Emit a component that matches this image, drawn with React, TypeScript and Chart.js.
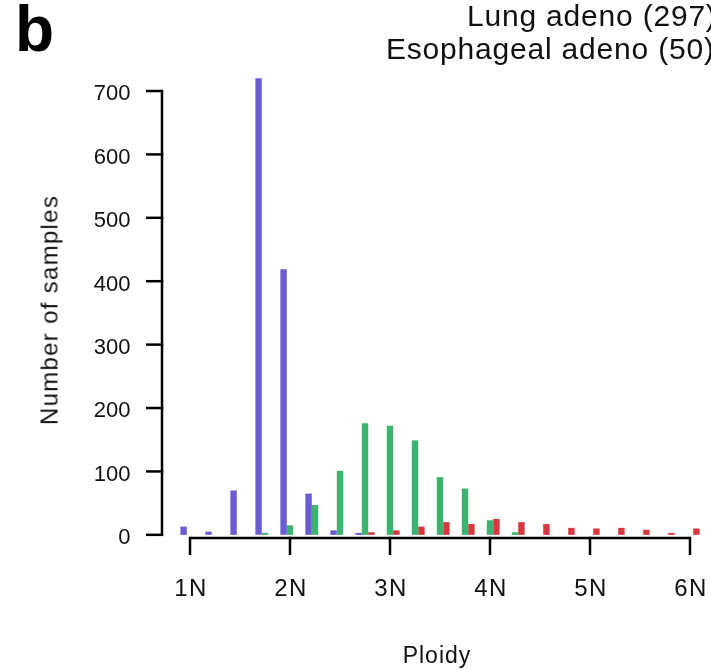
import React, { useEffect, useRef } from "react";
import { Chart, registerables } from "chart.js";

Chart.register(...registerables);

// Ploidy bins (in N)
const bins = [1, 1.25, 1.5, 1.75, 2, 2.25, 2.5, 2.75, 3, 3.25, 3.5, 3.75, 4, 4.25, 4.5, 4.75, 5, 5.25, 5.5, 5.75, 6];
const blueCounts = [13, 5, 70, 720, 419, 65, 7, 3, 0, 0, 0, 0, 0, 0, 0, 0, 0, 0, 0, 0, 0];
const greenCounts = [0, 0, 0, 3, 15, 47, 101, 176, 172, 149, 91, 73, 23, 4, 0, 0, 0, 0, 0, 0, 0];
const redCounts = [0, 0, 0, 0, 0, 0, 0, 4, 7, 13, 20, 17, 25, 20, 17, 11, 10, 11, 8, 3, 10];
const xTicks = [1, 2, 3, 4, 5, 6];
const xTickLabels = ["1N", "2N", "3N", "4N", "5N", "6N"];
const yTicks = [0, 100, 200, 300, 400, 500, 600, 700];
const legendLines = ["Lung adeno (297)", "Esophageal adeno (50)"];
const xTitle = "Ploidy";
const yTitle = "Number of samples";

const FONT = "'Liberation Sans', Arial, Helvetica, sans-serif";

const axesPlugin = {
  id: "rAxes",
  afterDraw(chart: any) {
    const ctx = chart.ctx;
    const xs = chart.scales.x;
    const ys = chart.scales.y;
    const area = chart.chartArea;
    ctx.save();
    ctx.strokeStyle = "#000";
    ctx.lineWidth = 2.5;
    ctx.lineCap = "butt";
    // y axis
    const ax = area.left;
    const yTop = ys.getPixelForValue(yTicks[yTicks.length - 1]);
    const yBot = ys.getPixelForValue(yTicks[0]);
    ctx.beginPath();
    ctx.moveTo(ax, yTop);
    ctx.lineTo(ax, yBot);
    ctx.stroke();
    ctx.fillStyle = "#111";
    ctx.font = `22px ${FONT}`;
    ctx.textAlign = "right";
    ctx.textBaseline = "alphabetic";
    yTicks.forEach((v) => {
      const p = ys.getPixelForValue(v);
      ctx.beginPath();
      ctx.moveTo(ax - 16, p);
      ctx.lineTo(ax + 1.25, p);
      ctx.stroke();
      ctx.fillText(String(v), ax - 31.5, p + 9.4);
    });
    // x axis
    const ay = area.bottom;
    const xl = xs.getPixelForValue(xTicks[0]);
    const xr = xs.getPixelForValue(xTicks[xTicks.length - 1]);
    ctx.beginPath();
    ctx.moveTo(xl, ay);
    ctx.lineTo(xr, ay);
    ctx.stroke();
    ctx.font = `24px ${FONT}`;
    ctx.textAlign = "center";
    try {
      (ctx as any).letterSpacing = "1.5px";
    } catch (e) {}
    xTicks.forEach((v, i) => {
      const p = xs.getPixelForValue(v);
      ctx.beginPath();
      ctx.moveTo(p, ay - 1.25);
      ctx.lineTo(p, ay + 17);
      ctx.stroke();
      ctx.fillText(xTickLabels[i], p + 1, ay + 58);
    });
    try {
      (ctx as any).letterSpacing = "0px";
    } catch (e) {}
    ctx.restore();
  },
};

export default function App() {
  const ref = useRef<HTMLCanvasElement>(null);
  useEffect(() => {
    if (!ref.current) return;
    const mk = (vals: number[]) => bins.map((b, i) => ({ x: b, y: vals[i] }));
    const chart = new Chart(ref.current, {
      type: "bar",
      data: {
        datasets: [
          { label: "A", data: mk(blueCounts), backgroundColor: "#6b5bd4", borderWidth: 0, clip: false as any },
          { label: "Lung adeno", data: mk(greenCounts), backgroundColor: "#3cb46f", borderWidth: 0, clip: false as any },
          { label: "Esophageal adeno", data: mk(redCounts), backgroundColor: "#d9363e", borderWidth: 0, clip: false as any },
        ],
      },
      options: {
        responsive: false,
        animation: false,
        devicePixelRatio: 1,
        layout: { padding: { top: 91, right: 0, left: 0, bottom: 0 } },
        plugins: { legend: { display: false }, tooltip: { enabled: false }, title: { display: false } },
        datasets: { bar: { barPercentage: 1, categoryPercentage: 0.77 } } as any,
        scales: {
          x: {
            type: "linear",
            min: 0.72,
            max: 6.21,
            offset: false,
            grid: { display: false, drawTicks: false },
            border: { display: false },
            afterBuildTicks: (s: any) => {
              s.ticks = xTicks.map((v) => ({ value: v }));
            },
            ticks: { display: false } as any,
            afterFit: (s: any) => {
              s.height = 132;
            },
          },
          y: {
            type: "linear",
            min: -5,
            max: 700,
            grid: { display: false, drawTicks: false },
            border: { display: false },
            afterBuildTicks: (s: any) => {
              s.ticks = yTicks.map((v) => ({ value: v }));
            },
            ticks: { display: false } as any,
            afterFit: (s: any) => {
              s.width = 162;
            },
          },
        },
      },
      plugins: [axesPlugin],
    });
    return () => chart.destroy();
  }, []);

  return (
    <div style={{ position: "absolute", left: 0, top: 0, width: 711, height: 670, overflow: "hidden", background: "#fff" }}>
      <canvas ref={ref} width={711} height={670} style={{ position: "absolute", left: 0, top: 0, width: 711, height: 670 }} />
      <div style={{ position: "absolute", left: 15, top: -3, fontFamily: FONT, fontWeight: "bold", fontSize: 64, lineHeight: "64px", color: "#000" }}>b</div>
      <div style={{ position: "absolute", left: 467, top: -1.5, fontFamily: FONT, fontSize: 30, lineHeight: "34px", letterSpacing: "0.8px", color: "#111", whiteSpace: "nowrap" }}>{legendLines[0]}</div>
      <div style={{ position: "absolute", left: 386, top: 31.5, fontFamily: FONT, fontSize: 30, lineHeight: "34px", letterSpacing: "0.8px", color: "#111", whiteSpace: "nowrap" }}>{legendLines[1]}</div>
      <div style={{ position: "absolute", left: 437, top: 655, transform: "translate(-50%, -50%)", fontFamily: FONT, fontSize: 23, lineHeight: "26px", letterSpacing: "1px", color: "#111", whiteSpace: "nowrap" }}>{xTitle}</div>
      <div style={{ position: "absolute", left: 49, top: 310, transform: "translate(-50%, -50%) rotate(-90deg)", fontFamily: FONT, fontSize: 24, lineHeight: "27px", letterSpacing: "1.3px", color: "#111", whiteSpace: "nowrap" }}>{yTitle}</div>
    </div>
  );
}
